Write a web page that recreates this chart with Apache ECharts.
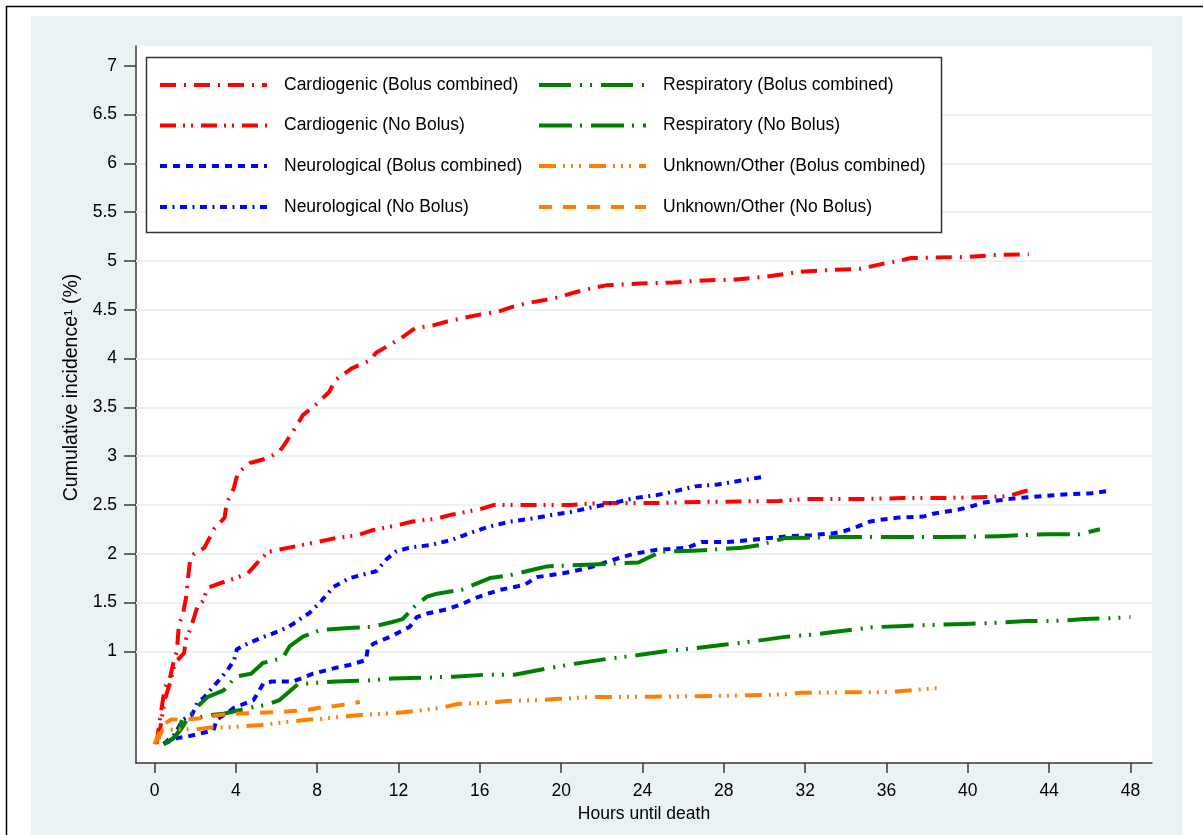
<!DOCTYPE html>
<html><head><meta charset="utf-8">
<script src="https://cdn.jsdelivr.net/npm/echarts@6/dist/echarts.min.js"></script>
<style>html,body{margin:0;padding:0;background:#fff}#c{width:1203px;height:835px}</style>
</head><body><div id="c"></div>
<script>
// ---- ticks ----
const xTicks = [0,4,8,12,16,20,24,28,32,36,40,44,48];
const yTicks = [1,1.5,2,2.5,3,3.5,4,4.5,5,5.5,6,6.5,7];
const yGridLines = [1,1.5,2,2.5,3,3.5,4,4.5,5,5.5,6,6.5];

// ---- series data: [hours, cumulative incidence %] ----
const cardioBolus = [[0.1,0.05],[0.3,0.35],[0.5,0.62],[0.75,0.72],[0.95,0.9],[1.1,1.0],[1.2,1.28],[1.4,1.38],[1.55,1.55],[1.65,1.75],[1.75,1.93],[1.95,2.0],[2.45,2.06],[2.95,2.26],[3.45,2.37],[3.55,2.52],[3.9,2.67],[4.1,2.83],[4.7,2.93],[5.6,2.98],[6.15,3.05],[6.4,3.12],[6.8,3.25],[7.3,3.42],[8.0,3.54],[8.6,3.66],[8.9,3.78],[9.7,3.9],[10.6,3.98],[10.9,4.06],[11.4,4.12],[12.2,4.22],[12.8,4.31],[13.7,4.34],[14.4,4.38],[15.3,4.42],[16.0,4.45],[16.9,4.48],[17.6,4.53],[18.4,4.57],[19.2,4.6],[19.9,4.63],[20.7,4.68],[21.5,4.72],[22.2,4.75],[23.9,4.77],[25.5,4.78],[27.0,4.8],[28.6,4.81],[30.1,4.84],[31.8,4.89],[33.5,4.91],[34.7,4.92],[35.8,4.97],[36.6,5.0],[37.2,5.03],[39.8,5.04],[41.3,5.06],[43.0,5.07]];
const cardioNoBolus = [[0.2,0.1],[0.5,0.5],[0.8,0.7],[1.0,0.88],[1.45,0.98],[1.55,1.12],[1.8,1.25],[2.1,1.45],[2.4,1.52],[2.6,1.65],[3.4,1.71],[4.0,1.75],[4.6,1.8],[5.2,1.94],[5.6,2.02],[6.8,2.07],[8.0,2.12],[8.9,2.16],[10.0,2.19],[10.7,2.24],[11.9,2.29],[12.7,2.33],[13.9,2.36],[14.6,2.4],[15.9,2.45],[16.7,2.5],[20.5,2.5],[21.9,2.52],[24.7,2.52],[26.7,2.53],[28.7,2.535],[30.7,2.54],[32.0,2.56],[34.7,2.56],[36.8,2.57],[38.8,2.57],[40.9,2.58],[42.0,2.59],[42.8,2.64],[43.2,2.66]];
const neuroBolus = [[0.45,0.05],[1.1,0.11],[1.6,0.125],[2.7,0.18],[2.9,0.19],[3.06,0.3],[3.6,0.37],[3.9,0.42],[4.87,0.5],[5.36,0.67],[5.77,0.69],[6.8,0.69],[7.8,0.77],[8.9,0.83],[9.6,0.86],[10.4,0.91],[10.5,1.04],[10.8,1.08],[11.6,1.15],[12.55,1.25],[12.9,1.35],[13.46,1.39],[14.4,1.43],[15.2,1.49],[15.7,1.54],[16.4,1.59],[17.0,1.63],[18.2,1.68],[18.8,1.76],[20.1,1.8],[20.8,1.83],[21.6,1.87],[22.6,1.94],[23.6,2.0],[24.7,2.04],[26.2,2.06],[26.9,2.12],[28.2,2.12],[29.3,2.14],[30.2,2.16],[31.3,2.18],[32.3,2.19],[33.4,2.21],[33.9,2.23],[34.6,2.28],[35.2,2.33],[35.8,2.35],[36.6,2.37],[37.8,2.38],[38.3,2.41],[38.9,2.43],[39.5,2.45],[40.1,2.48],[40.7,2.52],[41.3,2.54],[42.0,2.56],[42.5,2.57],[43.1,2.58],[43.7,2.59],[44.4,2.6],[44.9,2.61],[46.1,2.62],[46.8,2.64]];
const neuroNoBolus = [[0.45,0.05],[1.0,0.15],[1.4,0.3],[1.85,0.35],[2.1,0.47],[2.4,0.52],[3.2,0.71],[3.6,0.81],[3.9,0.9],[4.05,1.02],[4.6,1.08],[5.4,1.15],[5.8,1.18],[6.6,1.25],[7.3,1.35],[7.6,1.39],[8.1,1.49],[8.8,1.66],[9.6,1.75],[10.9,1.82],[11.4,1.94],[11.85,2.02],[12.5,2.06],[13.6,2.09],[14.6,2.14],[15.5,2.21],[16.5,2.28],[17.5,2.33],[18.6,2.36],[19.6,2.4],[20.55,2.43],[21.6,2.48],[22.6,2.52],[23.6,2.57],[24.7,2.6],[25.6,2.64],[26.6,2.69],[27.7,2.71],[28.6,2.74],[30.0,2.79]];
const respBolus = [[0.45,0.05],[0.9,0.1],[1.2,0.18],[1.35,0.3],[1.6,0.3],[2.9,0.35],[3.4,0.36],[4.9,0.43],[5.5,0.45],[6.15,0.5],[7.1,0.67],[7.5,0.67],[8.9,0.69],[10.4,0.7],[11.7,0.72],[13.3,0.73],[14.7,0.74],[16.3,0.76],[17.7,0.76],[19.2,0.82],[20.6,0.87],[22.2,0.92],[23.6,0.955],[25.1,1.0],[26.5,1.03],[28.1,1.07],[29.4,1.1],[31.1,1.15],[32.4,1.17],[33.9,1.21],[35.3,1.246],[36.9,1.26],[38.3,1.27],[39.9,1.28],[41.2,1.29],[42.9,1.31],[44.2,1.31],[45.75,1.33],[47.15,1.34],[48.0,1.35]];
const respNoBolus = [[0.45,0.05],[1.0,0.12],[1.3,0.2],[1.6,0.3],[2.1,0.43],[2.6,0.53],[3.4,0.6],[4.0,0.74],[4.75,0.77],[5.33,0.88],[6.3,0.93],[6.64,1.05],[7.3,1.15],[8.2,1.22],[9.76,1.24],[10.66,1.25],[11.7,1.3],[12.2,1.33],[12.8,1.46],[13.4,1.56],[13.9,1.59],[15.1,1.63],[16.5,1.75],[17.5,1.78],[18.5,1.83],[19.3,1.87],[21.6,1.89],[23.8,1.91],[24.1,1.94],[24.9,2.02],[26.5,2.03],[28.9,2.06],[29.8,2.09],[31.0,2.16],[33.9,2.17],[38.9,2.17],[41.5,2.18],[43.9,2.2],[45.5,2.2],[46.5,2.25]];
const unknownBolus = [[0.0,0.05],[0.4,0.19],[1.0,0.2],[2.0,0.2],[2.8,0.22],[3.6,0.22],[4.5,0.235],[5.25,0.245],[6.7,0.28],[7.6,0.3],[8.0,0.3],[9.2,0.33],[10.3,0.35],[11.65,0.364],[12.5,0.38],[14.1,0.42],[14.9,0.46],[16.4,0.47],[17.3,0.49],[18.9,0.5],[19.7,0.51],[21.3,0.53],[24.6,0.535],[27.0,0.54],[29.4,0.55],[31.06,0.56],[31.8,0.575],[34.3,0.58],[35.9,0.58],[36.6,0.59],[38.3,0.62],[38.7,0.62]];
const unknownNoBolus = [[0.0,0.05],[0.4,0.24],[0.8,0.3],[1.5,0.3],[2.1,0.31],[2.7,0.33],[3.3,0.35],[4.0,0.36],[5.2,0.37],[6.4,0.38],[7.0,0.39],[7.7,0.405],[8.2,0.425],[8.9,0.44],[9.5,0.46],[10.1,0.48]];

const names = ['Cardiogenic (Bolus combined)','Cardiogenic (No Bolus)','Neurological (Bolus combined)','Neurological (No Bolus)',
  'Respiratory (Bolus combined)','Respiratory (No Bolus)','Unknown/Other (Bolus combined)','Unknown/Other (No Bolus)'];

const FONT = "'Liberation Sans', Arial, sans-serif";
const FS = 17.5;
const RED = '#ff0000', BLUE = '#0000ff', GREEN = '#008000', ORANGE = '#ff8000';

function mk(name, data, color, dash) {
  return {name, type:'line', data, symbol:'none', showSymbol:false, smooth:false, z:2, clip:true,
    lineStyle:{color, width:4, type:dash, cap:'butt', join:'round'}, itemStyle:{color}};
}

const series = [
  {name:'_grid', type:'line', data:[], z:1, silent:true,
   markLine:{z:1, silent:true, symbol:['none','none'], label:{show:false}, animation:false,
     lineStyle:{color:'#eaf2f3', width:2, type:'solid'},
     data: yGridLines.map(v => ({yAxis: v}))}},
  mk(names[0], cardioBolus, RED, [16,8,2,8]),
  mk(names[1], cardioNoBolus, RED, [16,7,2,6,2,8]),
  mk(names[2], neuroBolus, BLUE, [7,6]),
  mk(names[3], neuroNoBolus, BLUE, [7,5.5,2,5.5]),
  mk(names[4], respBolus, GREEN, [32,9,2,8,2,9]),
  mk(names[5], respNoBolus, GREEN, [33,8,2,9]),
  mk(names[6], unknownBolus, ORANGE, [17,7,2,6,2,6,2,8]),
  mk(names[7], unknownNoBolus, ORANGE, [13,11])
];

const legendRows = [85,125.5,166,207];
const legends = names.map((n,i) => ({
  data:[n], left: i < 4 ? 158 : 537, top: legendRows[i % 4] - 10, orient:'horizontal', padding:0,
  itemWidth:107, itemHeight:20, selectedMode:false, z:6,
  lineStyle:{width:4},
  itemStyle:{opacity:0, borderWidth:0},
  textStyle:{fontFamily:FONT, fontSize:FS, color:'#000', lineHeight:20, padding:[0,0,0,12]}
}));

const chart = echarts.init(document.getElementById('c'), null, {renderer:'canvas'});
chart.setOption({
  animation:false,
  backgroundColor:'#ffffff',
  graphic:[
    {type:'rect', z:-10, shape:{x:31, y:16, width:1151, height:819}, style:{fill:'#eaf2f3'}},
    {type:'line', z:10, shape:{x1:6, y1:6.5, x2:1203, y2:6.5}, style:{stroke:'#000', lineWidth:1.5}},
    {type:'line', z:10, shape:{x1:6.5, y1:6, x2:6.5, y2:835}, style:{stroke:'#000', lineWidth:1.5}},
    {type:'rect', z:4, shape:{x:146.5, y:57.5, width:795, height:175}, style:{fill:'#fff', stroke:'#333', lineWidth:1.5}}
  ],
  grid:{left:136, top:46, right:51, bottom:72, show:true, backgroundColor:'#fff', borderWidth:0, containLabel:false},
  xAxis:{type:'value', min:-0.91, max:49.06,
    axisLine:{show:true, onZero:false, lineStyle:{color:'#3a3a3a', width:1.5}},
    axisTick:{show:true, customValues:xTicks, length:10, lineStyle:{color:'#3a3a3a', width:1.5}},
    axisLabel:{customValues:xTicks, margin:19, fontFamily:FONT, fontSize:FS, color:'#000'},
    splitLine:{show:false},
    name:'Hours until death', nameLocation:'middle', nameGap:34,
    nameTextStyle:{fontFamily:FONT, fontSize:FS, color:'#000'}},
  yAxis:{type:'value', min:-0.145, max:7.203,
    axisLine:{show:true, onZero:false, lineStyle:{color:'#3a3a3a', width:1.5}},
    axisTick:{show:true, customValues:yTicks, length:12, lineStyle:{color:'#3a3a3a', width:1.5}},
    axisLabel:{customValues:yTicks, margin:19, fontFamily:FONT, fontSize:FS, color:'#000'},
    splitLine:{show:false},
    name:'Cumulative incidence\u00b9 (%)', nameLocation:'middle', nameGap:40,
    nameTextStyle:{fontFamily:FONT, fontSize:19.5, color:'#000', padding:[0,0,0,34]}},
  legend: legends,
  series
});
</script>
</body></html>
